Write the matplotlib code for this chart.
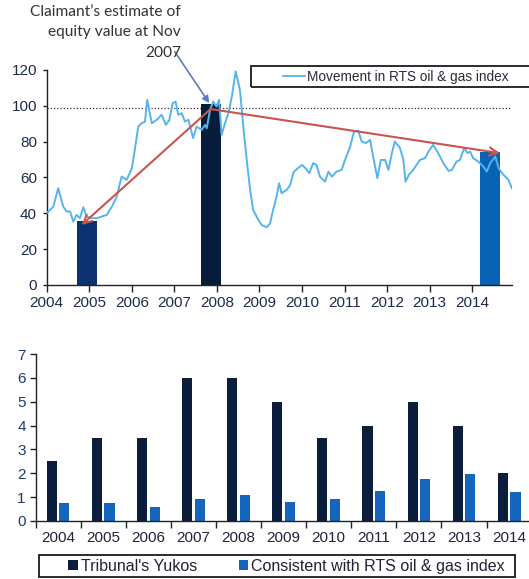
import matplotlib
matplotlib.use("Agg")
import matplotlib.pyplot as plt
from matplotlib.patches import Rectangle
from matplotlib.lines import Line2D

plt.rcParams['font.family'] = ['Liberation Sans', 'DejaVu Sans']

# ---------------- data: top chart ----------------
index_dates = [2004.00, 2004.155, 2004.27, 2004.39, 2004.47, 2004.55, 2004.625, 2004.70, 2004.78, 2004.86,
               2004.94, 2005.06, 2005.175, 2005.29, 2005.41, 2005.53, 2005.645, 2005.76, 2005.88, 2006.00,
               2006.07, 2006.15, 2006.23, 2006.31, 2006.36, 2006.47, 2006.585, 2006.70, 2006.80, 2006.88,
               2006.96, 2007.03, 2007.09, 2007.17, 2007.25, 2007.33, 2007.44, 2007.52, 2007.64, 2007.72,
               2007.76, 2007.84, 2007.91, 2007.99, 2008.05, 2008.11, 2008.19, 2008.27, 2008.35, 2008.44,
               2008.54, 2008.62, 2008.70, 2008.78, 2008.85, 2008.95, 2009.05, 2009.17, 2009.25, 2009.32,
               2009.40, 2009.46, 2009.52, 2009.64, 2009.72, 2009.80, 2009.90, 2010.00, 2010.08, 2010.17,
               2010.26, 2010.34, 2010.42, 2010.54, 2010.62, 2010.70, 2010.81, 2010.93, 2011.01, 2011.13,
               2011.22, 2011.32, 2011.40, 2011.50, 2011.60, 2011.67, 2011.77, 2011.85, 2011.95, 2012.03,
               2012.11, 2012.18, 2012.30, 2012.38, 2012.43, 2012.51, 2012.61, 2012.69, 2012.77, 2012.89,
               2012.97, 2013.08, 2013.20, 2013.32, 2013.44, 2013.52, 2013.63, 2013.71, 2013.81, 2013.89,
               2013.95, 2014.02, 2014.14, 2014.26, 2014.34, 2014.42, 2014.54, 2014.62, 2014.73, 2014.85,
               2014.93]
index_values = [40.1, 43.7, 54.0, 43.7, 41.0, 41.0, 35.4, 39.1, 37.3, 43.4,
                38.2, 37.3, 37.3, 38.2, 39.1, 43.7, 49.3, 60.5, 58.7, 65.2,
                75.4, 88.4, 90.3, 91.2, 103.4, 90.3, 92.2, 95.0, 89.4, 92.0,
                101.5, 102.4, 95.0, 95.9, 91.2, 92.2, 82.0, 88.4, 86.6, 89.4,
                87.5, 97.8, 102.4, 99.6, 103.4, 83.8, 90.3, 95.9, 105.2, 119.2,
                108.9, 88.4, 69.8, 53.1, 41.9, 37.3, 33.5, 32.2, 34.5, 41.9,
                49.3, 56.8, 51.2, 53.1, 55.8, 63.0, 65.2, 67.0, 65.2, 62.4,
                68.0, 67.0, 60.5, 57.7, 63.3, 60.5, 63.3, 64.2, 69.8, 77.3,
                85.6, 86.2, 80.1, 79.2, 81.0, 71.7, 59.6, 69.8, 69.8, 64.2,
                73.6, 80.1, 76.5, 70.0, 57.7, 61.5, 64.2, 67.0, 69.8, 70.8,
                74.5, 78.2, 73.6, 68.0, 63.7, 64.2, 68.9, 69.8, 76.4, 73.6,
                74.5, 70.8, 68.9, 66.1, 63.3, 68.0, 71.7, 65.2, 61.5, 58.7,
                54.0]
bar_dates = [2004.95, 2007.85, 2014.42]
bar_values = [36, 101, 74]
bar_colors = ['#0b3170', '#061c3a', '#0a62b5']
reference_level = 99
arrow_origin = (2007.85, 98.2)
arrow_targets = [(2004.82, 33.5), (2014.65, 73.6)]
note_arrow_from = (2007.01, 130.2)
note_arrow_to = (2007.82, 101.5)
top_years = list(range(2004, 2015))
line_label = 'Movement in RTS oil & gas index'
note_text = 'Claimant\u2019s estimate of\nequity value at Nov\n2007'

# ---------------- data: bottom chart ----------------
years = ['2004', '2005', '2006', '2007', '2008', '2009', '2010', '2011', '2012', '2013', '2014']
tribunal = [2.5, 3.5, 3.5, 6, 6, 5, 3.5, 4, 5, 4, 2]
consistent = [0.77, 0.75, 0.60, 0.91, 1.10, 0.80, 0.94, 1.24, 1.78, 1.96, 1.21]
series_labels = ["Tribunal's Yukos", 'Consistent with RTS oil & gas index']

W, H = 529, 579
fig = plt.figure(figsize=(W / 100, H / 100), dpi=100)


def fx(px):
    return px / W


def fy(py):
    return 1 - py / H


tick_color = '#1c2c4c'
line_color = '#56b4ec'

# ================= top chart =================
ax1 = fig.add_axes([fx(46.7), fy(285), (511.7 - 46.7) / W, (285 - 70) / H])
ax1.bar(bar_dates, bar_values, width=0.47, color=bar_colors, zorder=2)
ax1.plot(index_dates, index_values, color=line_color, lw=1.4, zorder=3)
ax1.axhline(reference_level, color='#333333', ls=(0, (1, 1.6)), lw=0.9, zorder=1)
for tgt in arrow_targets:
    ax1.annotate('', xy=tgt, xytext=arrow_origin,
                 arrowprops=dict(arrowstyle='->', color='#c8554f', lw=1.5,
                                 mutation_scale=15, shrinkA=0, shrinkB=0),
                 zorder=4)
ax1.annotate('', xy=note_arrow_to, xytext=note_arrow_from, annotation_clip=False,
             arrowprops=dict(arrowstyle='-|>', color='#5a7dbf', lw=1.2,
                             mutation_scale=10, shrinkA=0, shrinkB=0))
fig.text(fx(181), fy(4.5), note_text, ha='right', va='top', fontsize=11.2,
         family=['Lato', 'DejaVu Sans'], color='#333333', linespacing=1.6,
         multialignment='right')

ax1.set_xlim(2004, 2014.926)
ax1.set_ylim(0, 120)
ax1.set_yticks(range(0, 121, 20))
ax1.set_xticks(top_years)
ax1.set_xticklabels([str(y) for y in top_years])
for s in ['top', 'right']:
    ax1.spines[s].set_visible(False)
for s in ['left', 'bottom']:
    ax1.spines[s].set_color('#222222')
    ax1.spines[s].set_linewidth(1.0)
ax1.tick_params(axis='x', direction='out', length=5, width=1, colors='#222222',
                labelcolor=tick_color, labelsize=11, pad=3)
ax1.tick_params(axis='y', direction='out', length=3, width=1, colors='#222222',
                labelcolor=tick_color, labelsize=11, pad=4)

leg1 = ax1.legend(handles=[Line2D([], [], color=line_color, lw=1.3)], labels=[line_label],
                  loc='center left', bbox_to_anchor=(fx(283), fy(76.5)),
                  bbox_transform=fig.transFigure, frameon=False, borderpad=0,
                  borderaxespad=0, handlelength=1.6, handletextpad=0.15,
                  prop={'size': 9.8})
for t in leg1.get_texts():
    t.set_color('#2a2a3a')
fig.add_artist(Rectangle((fx(251), fy(87)), (545 - 251) / W, 21 / H,
                         transform=fig.transFigure, fill=False, ec='#1a1a1a', lw=1.3))

# ================= bottom chart =================
cat_w = 45.11
left_px = 35.5
ax2 = fig.add_axes([fx(left_px), fy(521), 11 * cat_w / W, (521 - 354) / H])
xs = list(range(len(years)))
bw = 0.225
off = 0.14
b1 = ax2.bar([x - off for x in xs], tribunal, width=bw, color='#0a1e3c', zorder=2)
b2 = ax2.bar([x + off for x in xs], consistent, width=bw, color='#1565bd', zorder=2)
ax2.set_xlim(-0.5, 10.5)
ax2.set_ylim(0, 7)
ax2.set_yticks(range(0, 8))
ax2.set_xticks([x - 0.5 for x in range(len(years) + 1)])
ax2.set_xticklabels([])
ax2.set_xticks(xs, minor=True)
ax2.set_xticklabels(years, minor=True)
for s in ['top', 'right']:
    ax2.spines[s].set_visible(False)
for s in ['left', 'bottom']:
    ax2.spines[s].set_color('#222222')
    ax2.spines[s].set_linewidth(1.0)
ax2.tick_params(axis='x', which='major', direction='out', length=5, width=1, colors='#222222')
ax2.tick_params(axis='x', which='minor', length=0, labelsize=11, labelcolor='#22223a', pad=7)
ax2.tick_params(axis='y', direction='out', length=4, width=1, colors='#222222',
                labelcolor='#1f3a68', labelsize=11, pad=3)

leg2 = ax2.legend([b1, b2], series_labels, loc='center left',
                  bbox_to_anchor=(fx(68), fy(566.5)), bbox_transform=fig.transFigure,
                  frameon=False, borderpad=0, borderaxespad=0, ncols=2,
                  handlelength=0.6, handleheight=0.6, handletextpad=0.2,
                  columnspacing=2.6, prop={'size': 11.5})
for t in leg2.get_texts():
    t.set_color('#222233')
fig.add_artist(Rectangle((fx(39), fy(577)), (514.5 - 39) / W, 22 / H,
                         transform=fig.transFigure, fill=False, ec='#1a1a1a', lw=1.3))

fig.savefig('out.png', dpi=100)
